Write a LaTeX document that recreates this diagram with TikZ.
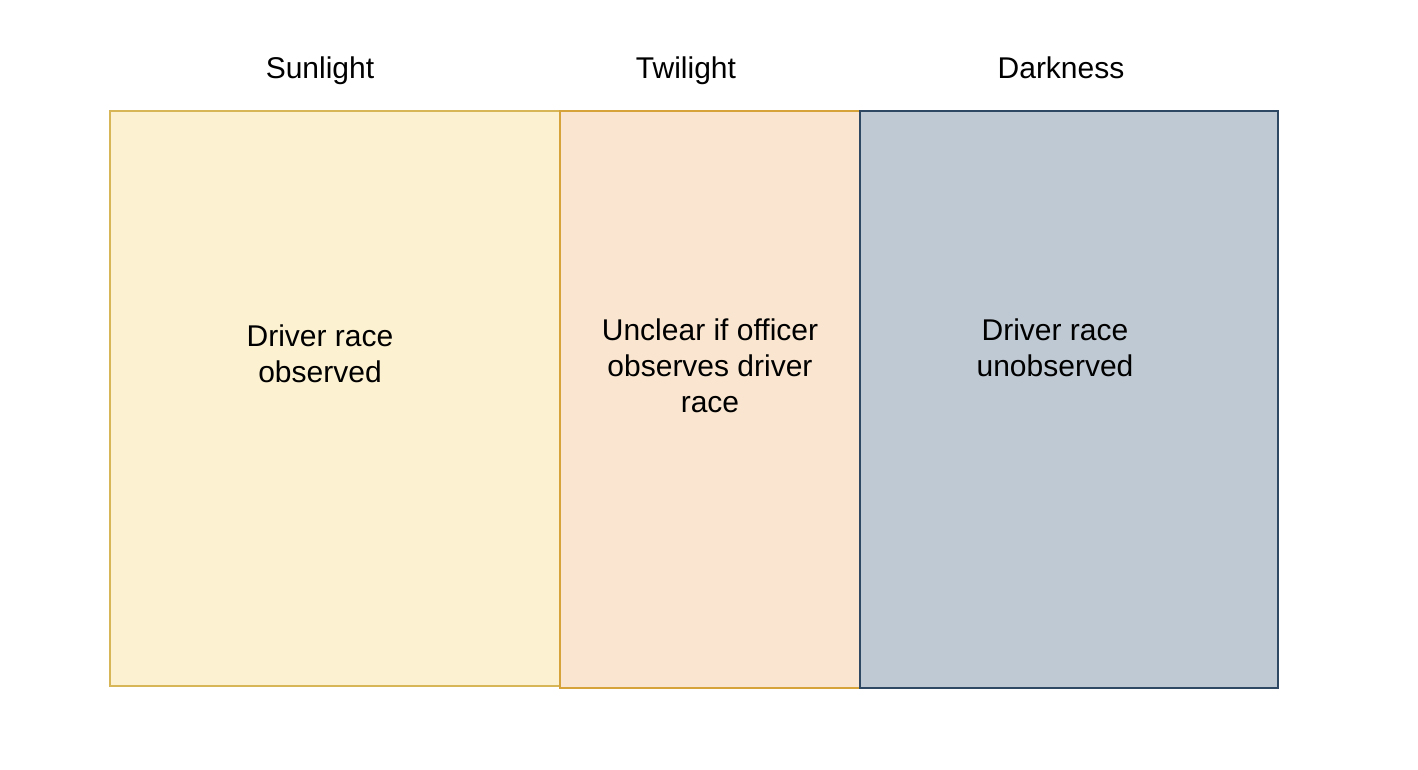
\documentclass[tikz,border=0pt]{standalone}
\usepackage{fontspec}
\setmainfont{Liberation Sans}
\usepackage{tikz}

\definecolor{sunfill}{HTML}{FCF1D0}
\definecolor{sundraw}{HTML}{D6B656}
\definecolor{twifill}{HTML}{FAE6D0}
\definecolor{twidraw}{HTML}{D6A23A}
\definecolor{darkfill}{HTML}{BFC9D3}
\definecolor{darkdraw}{HTML}{2E4763}

\tikzset{
  zone/.style={draw,line width=1pt,anchor=north west,inner sep=0pt,outer sep=0pt},
  txt/.style={font=\fontsize{15}{18}\selectfont,align=center,inner sep=0pt},
  head/.style={txt,anchor=base}
}

\begin{document}
\begin{tikzpicture}[x=0.5pt,y=-0.5pt]
      \useasboundingbox (0,0) rectangle (1418,770);
      %% Zones
      \node[zone,fill=sunfill,draw=sundraw,minimum width=225pt,minimum height=287.5pt] (sun) at (110,111) {};
      \node[zone,fill=twifill,draw=twidraw,minimum width=150pt,minimum height=288.5pt] (twi) at (sun.north east) {};
      \node[zone,fill=darkfill,draw=darkdraw,minimum width=209pt,minimum height=288.5pt] (dark) at (twi.north east) {};
      %% Headings
      \node[head] (sunhead) at (320,79) {Sunlight};
      \node[head] (twihead) at (686,79) {Twilight};
      \node[head] (darkhead) at (1061,79) {Darkness};
      %% Zone texts
      \node[txt] (suntxt) at (320,354) {Driver race\\observed};
      \node[txt] (twitxt) at (710,366) {Unclear if officer\\observes driver\\race};
      \node[txt] (darktxt) at (1055,348) {Driver race\\unobserved};
\end{tikzpicture}
\end{document}
